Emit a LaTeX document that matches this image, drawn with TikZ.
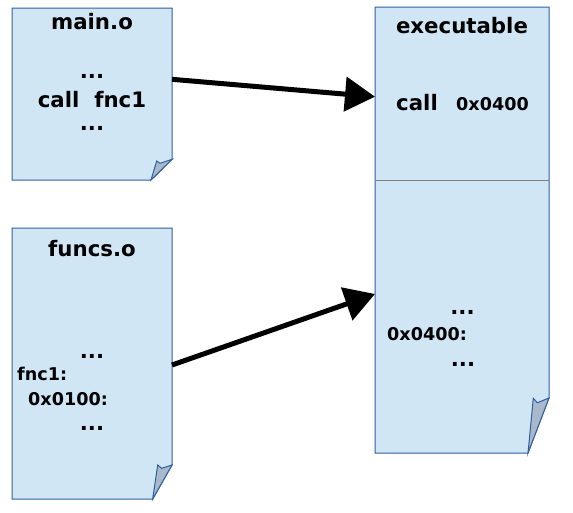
\documentclass[tikz,border=0pt]{standalone}
\usepackage{fontspec}
\setmainfont{DejaVu Sans}
\usetikzlibrary{arrows.meta}
\definecolor{docfill}{HTML}{D0E6F5}
\definecolor{docline}{HTML}{2F5F9F}
\definecolor{curlfill}{HTML}{A9B9CB}
\definecolor{divgray}{HTML}{808080}
\tikzset{
  docnode/.style={draw=none,inner sep=0pt,outer sep=0pt},
  docpage/.style={fill=docfill,draw=docline,line width=1pt,line join=miter},
  curlpage/.style={fill=curlfill,draw=docline,line width=1pt,line join=miter},
  big/.style={inner sep=0pt,font=\bfseries\fontsize{21.3}{25}\selectfont},
  small/.style={inner sep=0pt,font=\bfseries\fontsize{17.6}{21}\selectfont},
  link/.style={line width=5pt,-{Triangle[length=30pt,width=34pt]}}
}
\newcommand\pagedoc[7]{%
  \path[docpage] (#1.north west) -- (#1.north east) -- ([yshift=#3]#1.south east)
    -- ([xshift=-#2]#1.south east) -- (#1.south west) -- cycle;
  \path[curlpage] ([xshift=-#2]#1.south east) -- ([xshift=#4,yshift=#5]#1.south east)
    -- ([xshift=#6,yshift=#7]#1.south east) -- ([yshift=#3]#1.south east) -- cycle;
}
\begin{document}
\begin{tikzpicture}[x=1pt,y=-1pt]
\useasboundingbox (0,0) rectangle (573,512);
% boxes
\node[docnode,minimum width=160pt,minimum height=172pt] (main) at (92,94) {};
\node[docnode,minimum width=160pt,minimum height=271pt] (funcs) at (92,363.5) {};
\node[docnode,minimum width=174pt,minimum height=446pt] (exec) at (462,230) {};
\pagedoc{main}{21pt}{20.7pt}{-15.3pt}{19pt}{-12pt}{16.7pt}
\pagedoc{funcs}{19.3pt}{34pt}{-14.3pt}{34pt}{-10.3pt}{30.7pt}
\pagedoc{exec}{21pt}{55pt}{-15.7pt}{54.7pt}{-11.7pt}{50.3pt}
\draw[divgray,line width=0.9pt] ([yshift=50pt,xshift=0.5pt]exec.west) -- ([yshift=50pt,xshift=-0.5pt]exec.east);
% main.o text
\node[big,anchor=base] (mtitle) at (92,29) {main.o};
\node[big,anchor=base] (mdots1) at (92,78) {...};
\node[big,anchor=base] (mcall) at (92,107) {call\ \ fnc1};
\node[big,anchor=base] (mdots2) at (92,130) {...};
% funcs.o text
\node[big,anchor=base] (ftitle) at (92,256) {funcs.o};
\node[big,anchor=base] (fdots1) at (92,358) {...};
\node[small,anchor=base west] (flabel) at (17,380) {fnc1:};
\node[small,anchor=base west] (faddr) at (28,405) {0x0100:};
\node[big,anchor=base] (fdots2) at (92,430) {...};
% executable text
\node[big,anchor=base] (etitle) at (462,33) {executable};
\node[big,anchor=base west] (ecall) at (396,110) {call};
\node[small,anchor=base west] (eaddr) at (456,110) {0x0400};
\node[big,anchor=base] (edots1) at (462.5,314) {...};
\node[small,anchor=base west] (elabel) at (387,340) {0x0400:};
\node[big,anchor=base] (edots2) at (463,366) {...};
% connectors
\draw[link] ([yshift=14.7pt]main.east) -- ([yshift=133.3pt]exec.west);
\draw[link] ([yshift=-1.5pt]funcs.east) -- ([yshift=-64pt]exec.west);
\end{tikzpicture}
\end{document}
